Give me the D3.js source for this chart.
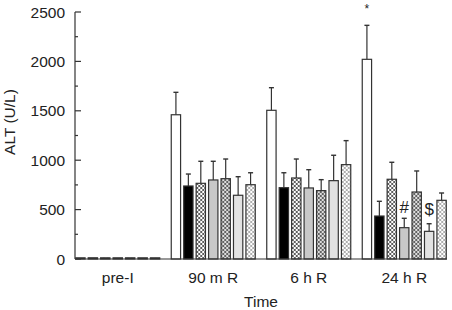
<!DOCTYPE html>
<html>
<head>
<meta charset="utf-8">
<script src="https://cdn.jsdelivr.net/npm/d3@7"></script>
<style>
  body { margin: 0; background: #fff; }
  svg { display: block; font-family: "Liberation Sans", Arial, sans-serif; }
</style>
</head>
<body>
<svg id="chart" width="452" height="310"></svg>
<script>
// groupes et séries
const groups = ["pre-I", "90 m R", "6 h R", "24 h R"];
const series = ["s1", "s2", "s3", "s4", "s5", "s6", "s7"];

// moyennes (U/L), une ligne par groupe
const means = [
    [12, 12, 12, 12, 12, 12, 12],
    [1460, 739, 766, 800, 813, 645, 752],
    [1505, 722, 820, 719, 692, 793, 955],
    [2021, 435, 807, 317, 678, 280, 594]
];
// haut des barres d'erreur (U/L)
const errTop = [
    [null, null, null, null, null, null, null],
    [1687, 860, 989, 989, 1012, 833, 873],
    [1734, 873, 1012, 904, 803, 1050, 1198],
    [2365, 584, 979, 412, 891, 357, 668]
];
// annotations
const marks = [
    {group: 3, bar: 0, text: "*"},
    {group: 3, bar: 3, text: "#"},
    {group: 3, bar: 5, text: "$"}
];
const yTicks = [0, 500, 1000, 1500, 2000, 2500];
const yMinor = [250, 750, 1250, 1750, 2250];

const svg = d3.select("#chart");
const plotLeft = 75, plotRight = 447, plotTop = 12, plotBottom = 259;
const fs = 15.5;

const defs = svg.append("defs");
function hatch(id, bg, line, size) {
    const p = defs.append("pattern")
        .attr("id", id)
        .attr("patternUnits", "userSpaceOnUse")
        .attr("width", size).attr("height", size);
    p.append("rect").attr("width", size).attr("height", size).attr("fill", bg);
    p.append("path")
        .attr("d", `M0,0L${size},${size}M${size},0L0,${size}`)
        .attr("stroke", line).attr("stroke-width", 0.8);
}
hatch("h1", "#fff", "#333", 4);
hatch("h2", "#ddd", "#444", 4);
hatch("h3", "#fff", "#999", 4);

const fills = ["#fff", "#000", "url(#h1)", "#c8c8c8", "url(#h2)", "#e2e2e2", "url(#h3)"];

const x = d3.scaleBand().domain(groups).range([70, 452]).padding(0);
const xi = d3.scaleBand().domain(series).range([-42, 42]).paddingInner(0.25);
const y = d3.scaleLinear().domain([0, 2500]).range([plotBottom, plotTop]);

// axe Y
const ya = svg.append("g").attr("transform", `translate(${plotLeft},0)`);
ya.append("line").attr("y1", y(2500)).attr("y2", y(0)).attr("stroke", "#333").attr("stroke-width", 1.2);
ya.selectAll(".maj").data(yTicks).enter().append("line")
    .attr("x1", 0).attr("x2", 6).attr("y1", d => y(d)).attr("y2", d => y(d))
    .attr("stroke", "#333").attr("stroke-width", 1.2);
ya.selectAll(".min").data(yMinor).enter().append("line")
    .attr("x1", 0).attr("x2", 3).attr("y1", d => y(d)).attr("y2", d => y(d))
    .attr("stroke", "#333").attr("stroke-width", 1.2);
ya.selectAll("text").data(yTicks).enter().append("text")
    .attr("x", -10).attr("y", d => y(d)).attr("dy", "0.36em")
    .attr("text-anchor", "end").attr("font-size", fs).attr("fill", "#222")
    .text(d => d);

svg.append("text")
    .attr("transform", `translate(15,122) rotate(-90)`)
    .attr("text-anchor", "middle").attr("font-size", fs).attr("fill", "#222")
    .text("ALT (U/L)");

// barres
groups.forEach((g, gi) => {
    const cx = x(g) + x.bandwidth() / 2;
    const gg = svg.append("g").attr("transform", `translate(${cx},0)`);
    series.forEach((s, si) => {
        const v = means[gi][si];
        const bx = xi(s);
        const e = errTop[gi][si];
        if (e != null) {
            gg.append("line")
                .attr("x1", bx + xi.bandwidth() / 2).attr("x2", bx + xi.bandwidth() / 2)
                .attr("y1", y(v)).attr("y2", y(e))
                .attr("stroke", "#333").attr("stroke-width", 1.2);
            gg.append("line")
                .attr("x1", bx + xi.bandwidth() / 2 - 2.5).attr("x2", bx + xi.bandwidth() / 2 + 2.5)
                .attr("y1", y(e)).attr("y2", y(e))
                .attr("stroke", "#333").attr("stroke-width", 1.4);
        }
        gg.append("rect")
            .attr("x", bx).attr("width", xi.bandwidth())
            .attr("y", y(v)).attr("height", y(0) - y(v))
            .attr("fill", fills[si])
            .attr("stroke", "#333").attr("stroke-width", 1.2);
    });
});

// annotations
marks.forEach(m => {
    const cx = x(groups[m.group]) + x.bandwidth() / 2 + xi(series[m.bar]) + xi.bandwidth() / 2;
    const e = errTop[m.group][m.bar];
    const t = m.text;
    svg.append("text")
        .attr("x", cx)
        .attr("y", t === "*" ? y(e) - 12 : (t === "#" ? y(e) - 5 : y(e) - 9))
        .attr("text-anchor", "middle")
        .attr("font-size", t === "*" ? 12 : 17)
        .attr("fill", "#222")
        .text(t);
});

// axe X
svg.append("line").attr("x1", plotLeft).attr("x2", plotRight).attr("y1", plotBottom).attr("y2", plotBottom)
    .attr("stroke", "#333").attr("stroke-width", 1.2);
svg.selectAll(".xl").data(groups).enter().append("text")
    .attr("x", d => x(d) + x.bandwidth() / 2).attr("y", 283)
    .attr("text-anchor", "middle").attr("font-size", fs).attr("fill", "#222")
    .text(d => d);
svg.append("text")
    .attr("x", (plotLeft + plotRight) / 2).attr("y", 307)
    .attr("text-anchor", "middle").attr("font-size", fs).attr("fill", "#222")
    .text("Time");
</script>
</body>
</html>
